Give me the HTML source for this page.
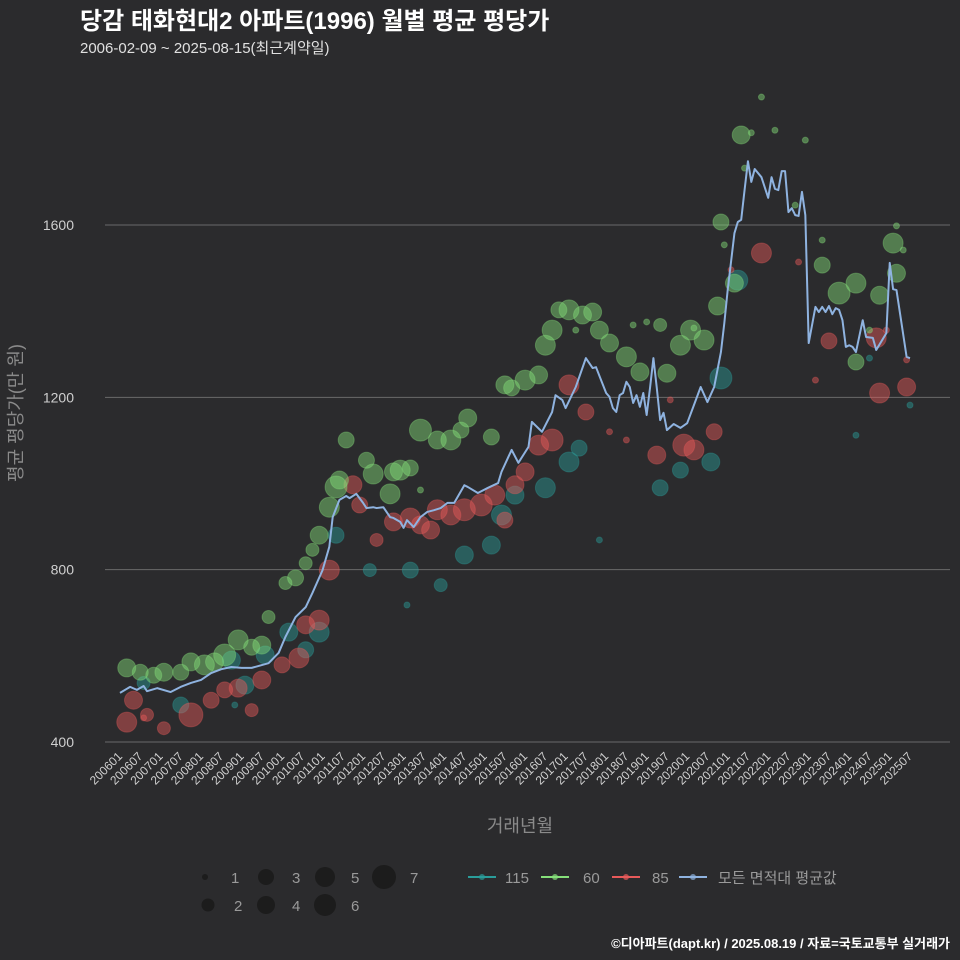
<!DOCTYPE html>
<html><head><meta charset="utf-8">
<style>
body{margin:0;background:#2b2b2d;width:960px;height:960px;overflow:hidden;font-family:"Liberation Sans","Noto Sans CJK KR",sans-serif}
svg{display:block}
</style></head>
<body>
<svg id="chart" width="960" height="960" xmlns="http://www.w3.org/2000/svg">
<rect width="960" height="960" fill="#2b2b2d"/>
<text x="80" y="29" fill="#fff" font-size="24" font-weight="bold" font-family="Liberation Sans, Noto Sans CJK KR, sans-serif">당감 태화현대2 아파트(1996) 월별 평균 평당가</text>
<text x="80" y="53" fill="#e0e0e0" font-size="15" font-family="Liberation Sans, Noto Sans CJK KR, sans-serif">2006-02-09 ~ 2025-08-15(최근계약일)</text>
<g id="grid"></g>
<g id="marks"></g>
<g id="xticks"></g>
<text x="520" y="832" fill="#8a8a8a" font-size="18" text-anchor="middle" font-family="Liberation Sans, Noto Sans CJK KR, sans-serif">거래년월</text>
<text transform="translate(22,413) rotate(-90)" fill="#8a8a8a" font-size="18" text-anchor="middle" font-family="Liberation Sans, Noto Sans CJK KR, sans-serif">평균 평당가(만 원)</text>
<g id="legend"></g>
<text x="950" y="948" fill="#fff" font-size="13" font-weight="bold" text-anchor="end" font-family="Liberation Sans, Noto Sans CJK KR, sans-serif">©디아파트(dapt.kr) / 2025.08.19 / 자료=국토교통부 실거래가</text>
</svg>
<script>
const yTicks=[400,800,1200,1600];
const lineMonths=[0,3,5,7,8,11,15,18,21,24,27,30,33,36,39,44,47,49,52,55,57,60,62,63,65,67,68,70,72,73,75,76,78,80,81,83,84,85,87,89,91,93,95,97,99,102,103,106,109,112,113,116,118,121,122,125,128,129,131,132,135,138,140,141,144,145,146,147,148,149,150,151,152,153,154,155,156,157,158,159,160,161,162,164,166,168,170,172,174,176,178,179,180,182,183,184,185,186,187,188,190,192,193,194,195,196,197,198,199,200,201,202,203,204,206,207,208,209,210,211,212,213,214,215,216,217,218,220,221,223,224,227,228,229,230,233,234];
const lineValues=[514,528,521,530,518,525,516,528,537,544,560,569,574,572,572,583,607,644,690,713,746,799,853,922,962,971,966,976,955,943,945,943,945,922,920,911,897,915,899,922,934,938,943,955,955,996,992,978,990,1001,1027,1078,1048,1085,1143,1120,1166,1205,1194,1175,1224,1291,1268,1270,1210,1201,1175,1166,1205,1210,1236,1224,1187,1205,1178,1210,1159,1222,1291,1222,1147,1164,1124,1138,1129,1140,1182,1224,1189,1224,1305,1372,1449,1581,1607,1612,1681,1748,1700,1730,1711,1663,1711,1684,1681,1725,1725,1630,1639,1623,1621,1677,1623,1326,1410,1398,1410,1398,1412,1393,1407,1403,1379,1317,1321,1317,1305,1379,1340,1338,1310,1349,1512,1451,1449,1294,1291];
// scatter: month index, value, count
const g60M=[2,6,10,13,18,21,25,28,31,35,39,42,44,49,52,55,57,59,62,64,65,67,73,75,80,81,83,86,89,94,98,101,103,110,114,116,120,124,126,128,130,133,137,140,142,145,150,154,160,162,166,169,173,177,178,182,184,187,190,200,208,213,218,218,225,229,230,230,89,135,152,156,170,179,185,194,203,208,222,232];
const g60V=[572,562,555,562,562,586,579,586,602,637,620,625,690,769,781,815,846,880,945,992,1008,1101,1054,1022,976,1027,1031,1036,1124,1101,1101,1124,1152,1108,1229,1222,1240,1252,1321,1356,1403,1403,1391,1398,1356,1326,1294,1259,1368,1256,1321,1356,1333,1412,1607,1465,1809,1814,1897,1646,1507,1442,1465,1282,1437,1558,1488,1598,985,1356,1368,1375,1361,1554,1732,1820,1797,1565,1356,1542];
const g60N=[4,3,3,4,3,4,5,4,6,5,3,4,2,2,3,2,2,4,5,6,4,3,3,5,5,4,5,3,6,4,5,3,4,3,4,3,5,4,5,5,3,5,4,4,4,4,5,4,2,4,5,5,5,4,3,4,4,1,1,1,3,6,5,3,4,5,4,1,1,1,1,1,1,1,1,1,1,1,1,1];
const g85M=[2,4,8,13,21,27,31,35,39,42,48,53,55,59,62,69,71,76,81,86,89,92,94,98,102,107,111,114,117,120,124,128,133,138,159,167,170,176,190,201,206,210,224,225,233,7,145,150,163,181,233,227];
const g85V=[446,497,463,432,463,497,521,525,474,544,579,595,672,683,799,997,950,869,911,920,904,892,939,927,939,950,973,915,997,1027,1089,1101,1229,1166,1066,1089,1078,1120,1535,1514,1240,1331,1338,1210,1224,456,1120,1101,1194,1496,1287,1356];
const g85N=[5,4,2,2,7,3,3,4,2,4,3,5,4,5,5,4,3,2,4,5,4,4,5,5,6,6,5,3,4,4,5,6,5,3,4,6,5,3,5,1,1,3,5,5,4,1,1,1,1,1,1,1];
const g115M=[7,18,33,37,43,50,55,59,64,74,86,95,102,110,113,117,126,133,136,160,166,175,178,183,218,222,234,34,85,142];
const g115V=[537,486,590,532,602,655,614,655,880,799,799,764,834,857,927,973,990,1050,1082,990,1031,1050,1245,1472,1112,1291,1182,486,718,869];
const g115N=[2,3,4,4,4,4,3,5,3,2,3,2,4,4,5,4,5,5,3,3,3,4,6,5,1,1,1,1,1,1];
const legendCounts=[1,2,3,4,5,6,7];
const seriesNames=["115","60","85","모든 면적대 평균값"];

const NS="http://www.w3.org/2000/svg";
const X0=120, XS=3.376, Y0=742, YS=0.43083;
const xScale=m=>X0+m*XS;
const yScale=v=>Y0-(v-400)*YS;
const rScale=n=>[0,3,6.5,8,9,10,11,12][n]||12;
function mk(tag,attrs,parent){const e=document.createElementNS(NS,tag);for(const k in attrs)e.setAttribute(k,attrs[k]);parent.appendChild(e);return e;}
const grid=document.getElementById('grid'),marks=document.getElementById('marks'),xt=document.getElementById('xticks'),lg=document.getElementById('legend');
const FF="Liberation Sans, Noto Sans CJK KR, sans-serif";
yTicks.forEach(v=>{
  const l=mk('line',{x1:105,x2:950,y1:yScale(v),y2:yScale(v),stroke:'#6a6a6a','stroke-width':1},grid);
  
  
  const t=mk('text',{x:74,y:yScale(v)+5,fill:'#cfcfcf','font-size':14,'text-anchor':'end','font-family':FF},grid);
  t.textContent=v;
  
  
});
for(let m=0;m<=234;m+=6){
  const yr=2006+Math.floor(m/12),mo=(m%12)+1;
  const lab=yr+''+(mo<10?'0'+mo:mo);
  const x=xScale(m);
  const t=mk('text',{transform:`translate(${x+3},${757}) rotate(-45)`,fill:'#cfcfcf','font-size':12,'text-anchor':'end','font-family':FF},xt);
  t.textContent=lab;
  
  
}
const COLORS={"115":"#2a9d9a","60":"#86e07a","85":"#e85a5a"};
function scatter(M,V,N,key){
  const g=mk('g',{},marks);
  
  
  M.forEach((m,i)=>{
    const c=mk('circle',{cx:xScale(m),cy:yScale(V[i]),r:rScale(N[i]),fill:COLORS[key],'fill-opacity':0.45,stroke:COLORS[key],'stroke-opacity':0.35,'stroke-width':1},g);
    
    
  });
}
scatter(g115M,g115V,g115N,"115");
scatter(g85M,g85V,g85N,"85");
scatter(g60M,g60V,g60N,"60");
const path=mk('polyline',{points:lineMonths.map((m,i)=>xScale(m)+','+yScale(lineValues[i])).join(' '),fill:'none',stroke:'#8fb3e0','stroke-width':2,'stroke-linejoin':'round'},marks);


// size legend
const lpos=[[205,877],[208,905],[266,877],[266,905],[325,877],[325,905],[384,877]];
legendCounts.forEach((n,i)=>{
  const c=mk('circle',{cx:lpos[i][0],cy:lpos[i][1],r:rScale(n),fill:'#1c1c1c'},lg);
  
  
  const t=mk('text',{x:lpos[i][0]+26,y:lpos[i][1]+6,fill:'#9a9a9a','font-size':15,'font-family':FF},lg);
  t.textContent=n;
  
  
});
const cpos=[[482,505],[555,583],[626,652],[693,718]];
const ccol=["#2a9d9a","#86e07a","#e85a5a","#8fb3e0"];
seriesNames.forEach((s,i)=>{
  const x=cpos[i][0];
  const l=mk('line',{x1:x-14,x2:x+14,y1:877,y2:877,stroke:ccol[i],'stroke-width':2},lg);
  
  
  const c=mk('circle',{cx:x,cy:877,r:3,fill:ccol[i],'fill-opacity':0.7},lg);
  
  
  const t=mk('text',{x:cpos[i][1],y:883,fill:'#9a9a9a','font-size':15,'font-family':FF},lg);
  t.textContent=s;
  
  
});
</script>
</body></html>
